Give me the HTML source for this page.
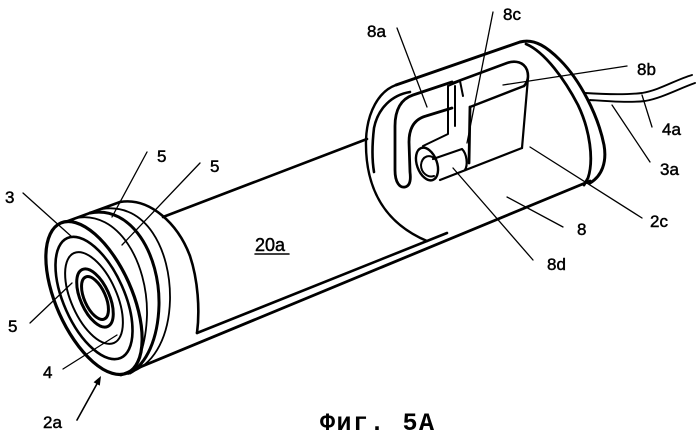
<!DOCTYPE html>
<html>
<head>
<meta charset="utf-8">
<style>
  html,body{margin:0;padding:0;background:#fff;}
  svg{display:block;}
  .lb{font-family:"Liberation Sans",sans-serif;font-size:17px;fill:#000;stroke:#000;stroke-width:0.45px;}
  .cap{font-family:"Liberation Mono",monospace;font-size:25px;font-weight:bold;fill:#000;letter-spacing:1.5px;}
</style>
</head>
<body>
<svg width="699" height="437" viewBox="0 0 699 437" xmlns="http://www.w3.org/2000/svg">
<rect width="699" height="437" fill="#fff"/>
<g fill="none" stroke="#000" stroke-linecap="round" stroke-linejoin="round">
  <!-- LEFT CAP front face rings -->
  <ellipse cx="94" cy="298" rx="38" ry="82" transform="rotate(-24 94 298)" stroke-width="3.2"/>
  <ellipse cx="94" cy="298" rx="30.4" ry="65.6" transform="rotate(-24 94 298)" stroke-width="2.6"/>
  <ellipse cx="94" cy="298" rx="22.8" ry="49.2" transform="rotate(-24 94 298)" stroke-width="2"/>
  <ellipse cx="95" cy="298" rx="14.4" ry="31.2" transform="rotate(-24 95 298)" stroke-width="3"/>
  <ellipse cx="95" cy="298" rx="10.6" ry="23" transform="rotate(-24 95 298)" stroke-width="3"/>
  <!-- cap side -->
  <path d="M68,221 L120,202" stroke-width="2.6"/>
  <path d="M76,218 C118,210 148,262 147,315 C146,345 138,366 128,374" stroke-width="1.8"/>
  <path d="M90,213 C132,205 160,255 159,305 C158,340 146,364 130,373" stroke-width="3"/>
  <path d="M102,209 C146,202 171,250 170,300 C169,336 155,362 134,371" stroke-width="1.8"/>
  <path d="M120,202 C150,197 178,224 190,256 C198,280 200,310 197,333" stroke-width="2.6"/>
  <!-- body -->
  <path d="M197,333 L447,233" stroke-width="2.6"/>
  <path d="M121,375 L590,181" stroke-width="2.8"/>
  <path d="M163,217 L367,139" stroke-width="2.6"/>

  <!-- RIGHT CAP -->
  <path d="M396,85 L520,42 C535,38 548,48 560,60 C580,80 598,115 604,145 C607,162 602,176 590,183" stroke-width="3"/>
  <path d="M526,44 C545,52 565,80 578,105 C590,130 594,160 588,178 L584,185" stroke-width="2.8"/>
  <path d="M396,85 C379,91 367,112 366,140 C365,185 382,222 427,241" stroke-width="2.4"/>
  <path d="M410,92 C392,95 378,108 374,128 C372,145 372,160 374,172" stroke-width="2.6"/>
  <!-- hook 8a -->
  <path d="M452,82 L413,95 C401,99 395,110 395,126 L395,170 C395,183 400,188 405,187 C410,186 411,180 410,172 L409,142 C409,127 415,119 426,116 L452,108" stroke-width="2.8"/>
  <!-- tab 8c -->
  <path d="M448,86 L448,134 L423,146" stroke-width="2"/>
  <path d="M455,86 L455,126" stroke-width="2"/>
  <path d="M448,86 L460,81 L463,96" stroke-width="2"/>
  <path d="M470,107 L469,163" stroke-width="2.8"/>
  <!-- box 8 / 8b -->
  <path d="M453,83 L507,63 C515,60 524,62 527,70 C529,76 528,82 524,86" stroke-width="2.6"/>
  <path d="M470,107 L524,86" stroke-width="2.4"/>
  <path d="M528,78 L522,148" stroke-width="2.2"/>
  <path d="M522,148 L440,180" stroke-width="2.2"/>
  <!-- cylinder 8d -->
  <ellipse cx="427" cy="164" rx="10" ry="17" transform="rotate(-20 427 164)" stroke-width="2.4"/>
  <path d="M436,160 C430,153 422,156 421,165 C421,173 428,178 434,176" stroke-width="2"/>
  <path d="M433,159 L462,149 C467,154 468,165 465,170" stroke-width="2.2"/>
  <!-- wires -->
  <path d="M585,93 C600,94 625,95 642,93 C660,90 675,80 692,75" stroke-width="1.9"/>
  <path d="M590,100 C605,101 628,103 645,101 C662,98 678,89 695,83" stroke-width="1.9"/>

  <!-- leaders -->
  <g stroke-width="1.3">
    <path d="M23,193 L72,237"/>
    <path d="M147,152 L112,217"/>
    <path d="M200,163 L122,245"/>
    <path d="M30,323 L72,283"/>
    <path d="M63,369 L117,335"/>
    <path d="M397,28 L427,107"/>
    <path d="M493,12 L467,143"/>
    <path d="M503,85 L627,66"/>
    <path d="M642,95 L652,127"/>
    <path d="M612,105 L650,162"/>
    <path d="M530,147 L642,218"/>
    <path d="M507,197 L563,227"/>
    <path d="M453,168 L533,260"/>
    <path d="M77,420 L98,382" stroke-width="1.6"/>
  </g>
  <path d="M255,254 L289,254" stroke-width="1.5"/>
</g>
<polygon points="101,376 99.8,385.6 93.6,382.2" fill="#000"/>

<!-- labels -->
<text class="lb" x="5" y="203">3</text>
<text class="lb" x="157" y="162">5</text>
<text class="lb" x="210" y="172">5</text>
<text class="lb" x="8" y="332">5</text>
<text class="lb" x="43" y="378">4</text>
<text class="lb" x="43" y="428">2a</text>
<text class="lb" x="255" y="251" style="font-size:18px">20a</text>
<text class="lb" x="367" y="37">8a</text>
<text class="lb" x="503" y="20">8c</text>
<text class="lb" x="637" y="75">8b</text>
<text class="lb" x="662" y="135">4a</text>
<text class="lb" x="660" y="175">3a</text>
<text class="lb" x="650" y="227">2c</text>
<text class="lb" x="577" y="235">8</text>
<text class="lb" x="547" y="270">8d</text>
<text class="cap" x="320" y="430">Фиг. 5A</text>
</svg>
</body>
</html>
